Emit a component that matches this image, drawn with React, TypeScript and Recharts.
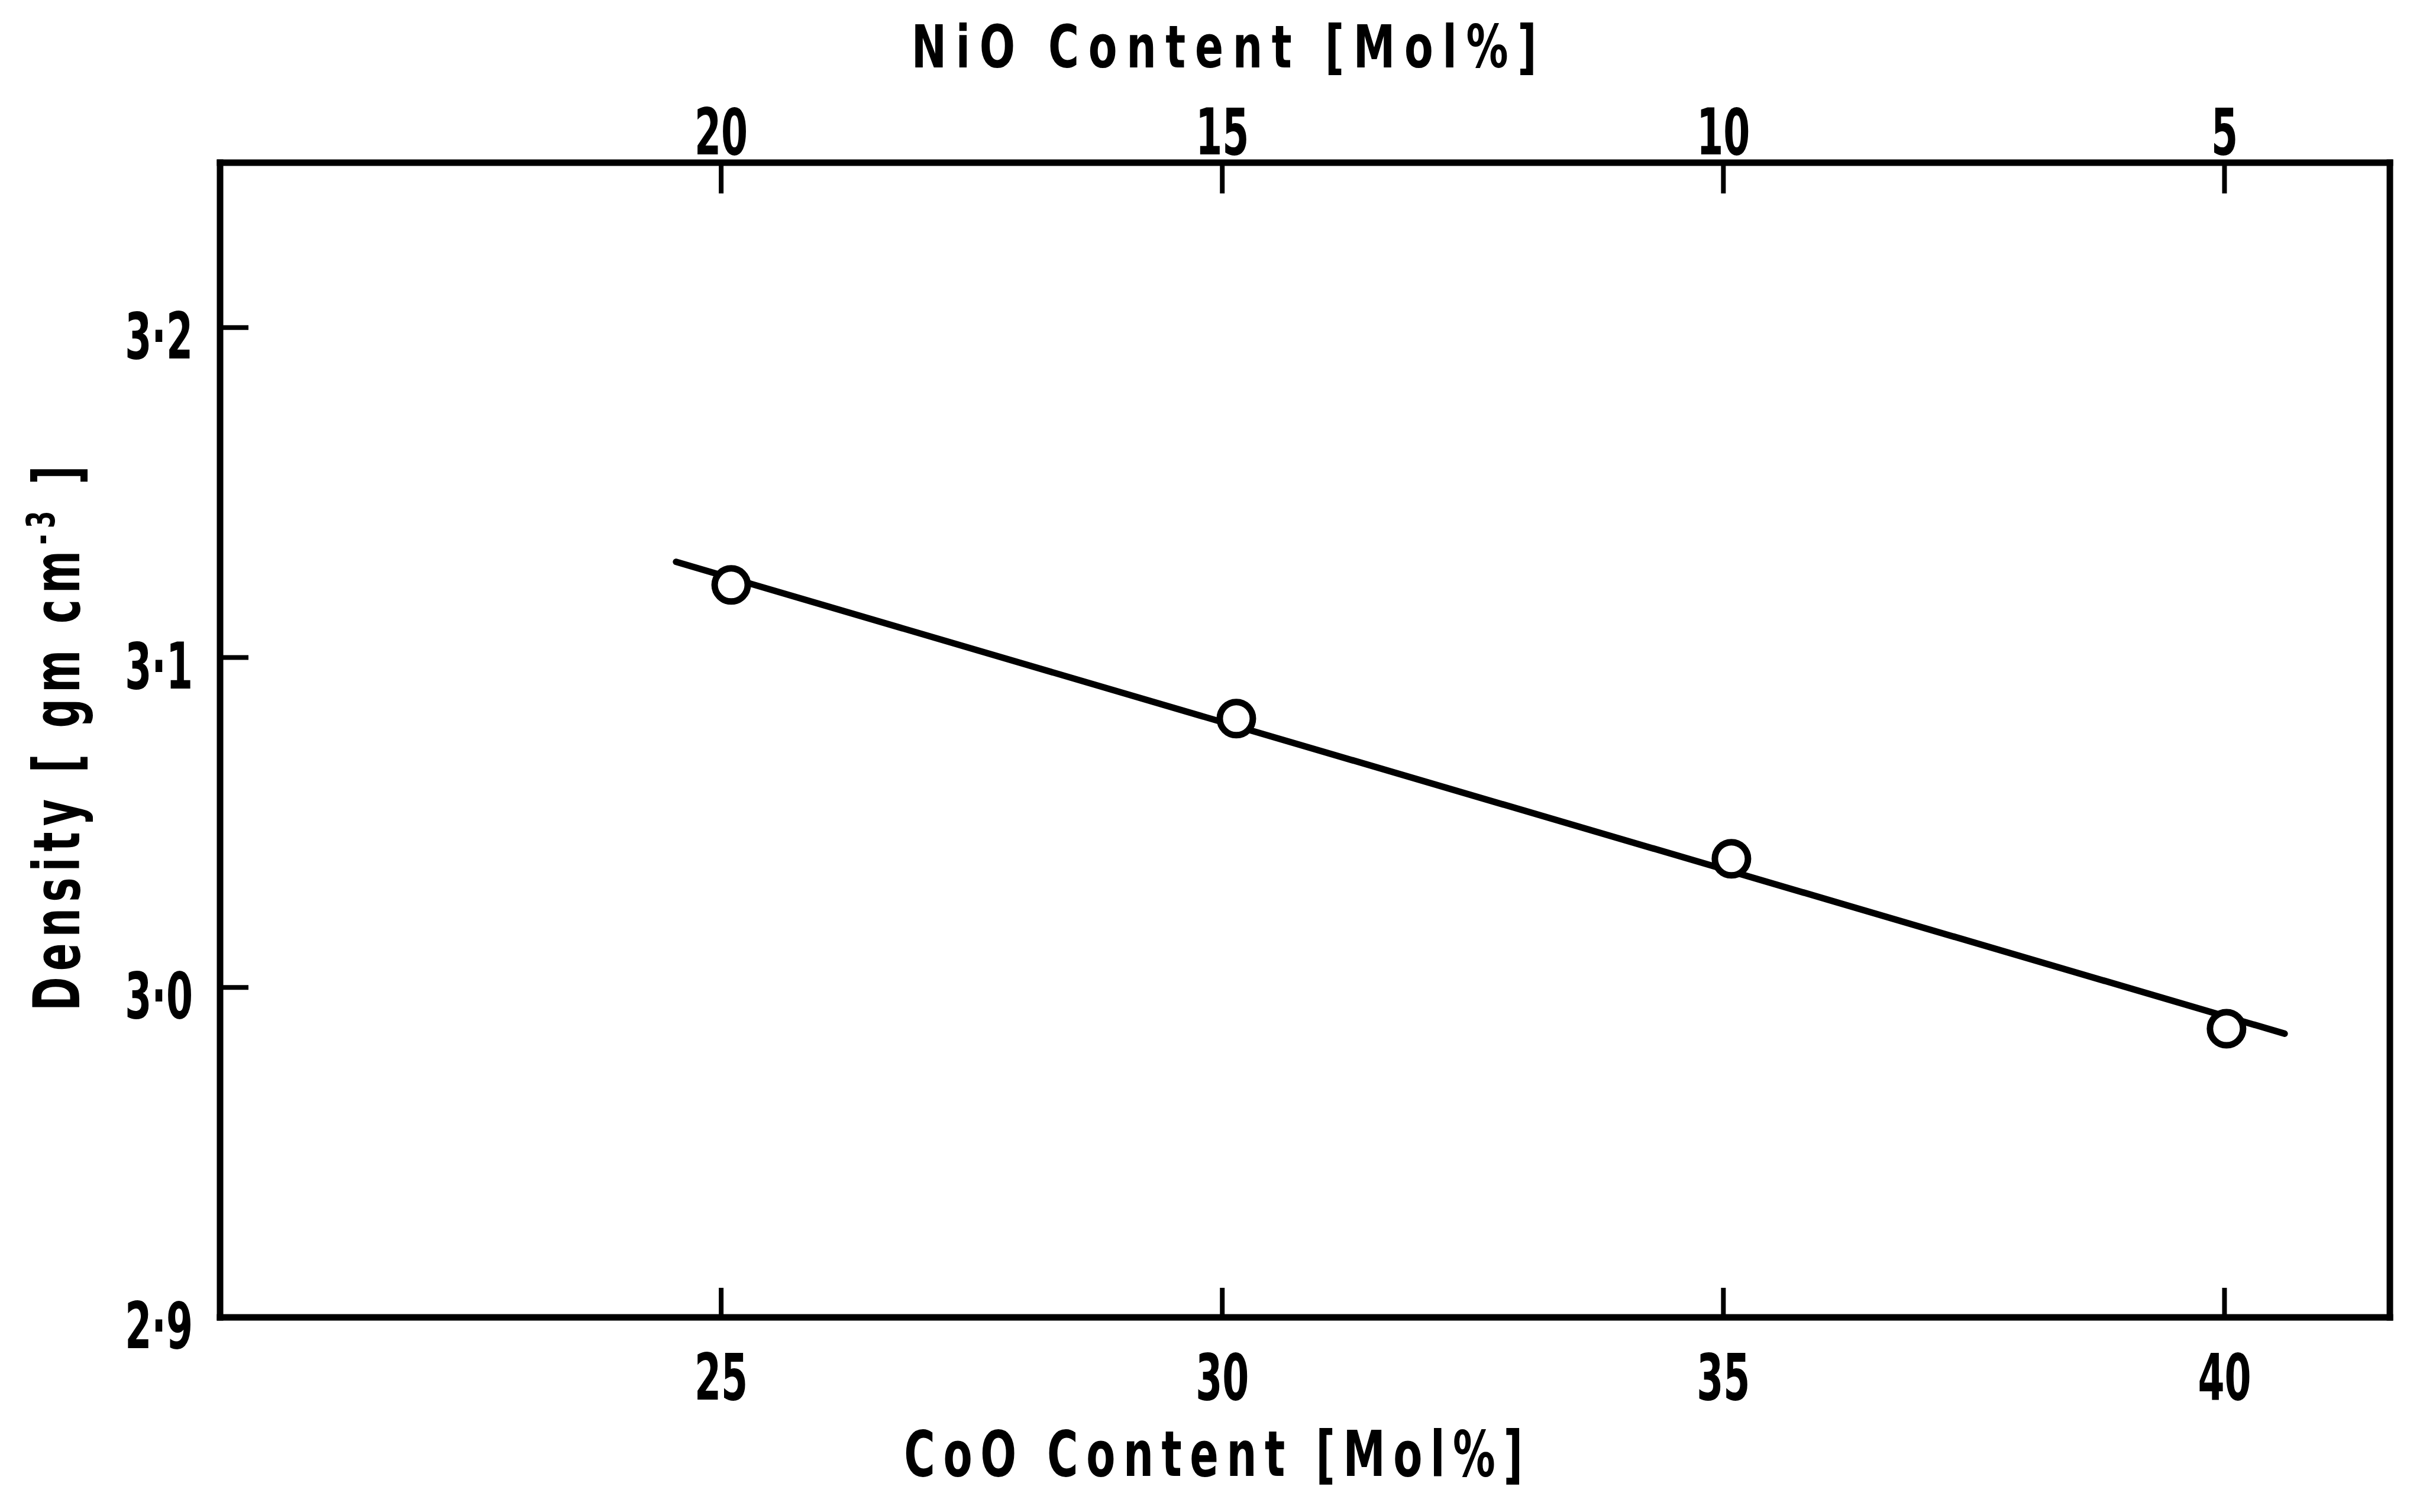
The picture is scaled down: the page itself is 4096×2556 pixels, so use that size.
import React from 'react';
import { ComposedChart, Line, Scatter, XAxis, YAxis } from 'recharts';

// CoO content [mol%] of the four samples and their measured density [g/cm3]
const cooContent = [25.1, 30.14, 35.08, 40.02];
const density = [3.122, 3.0815, 3.039, 2.9875];

// hand-drawn straight line through the points (end points as drawn)
const fitCoo = [24.55, 40.6];
const fitDensity = [3.129, 2.986];

const cooTicks = [25, 30, 35, 40];
const densityTicks = [2.9, 3.0, 3.1, 3.2];
const cooDomain = [20, 41.65];
const densityDomain = [2.9, 3.25];

const OXIDE_TOTAL = 45;

const points = cooContent.map((c, i) => ({ coo: c, density: density[i] }));
const fitLine = fitCoo.map((c, i) => ({ coo: c, density: fitDensity[i] }));

const W = 4096;
const H = 2556;
const FONT = 'DejaVu Sans';
const INK = '#000';

const axisStyle = { stroke: INK, strokeWidth: 11, strokeLinecap: 'square' as const };

// narrow, stencil-like lettering: a bold font squeezed sideways
const Lettering = ({
  x,
  y,
  children,
  size = 108,
  sx = 0.6,
  anchor = 'middle',
  spacing = 0,
  rotate = 0,
}: any) => (
  <text
    transform={`translate(${x},${y}) rotate(${rotate}) scale(${sx},1)`}
    textAnchor={anchor}
    fontFamily={FONT}
    fontWeight="bold"
    fontSize={size}
    letterSpacing={spacing}
    fill={INK}
  >
    {children}
  </text>
);

const BottomTick = ({ x, y, payload }: any) => (
  <g>
    <line x1={x} y1={y} x2={x} y2={y - 50} stroke={INK} strokeWidth={8} />
    <Lettering x={x} y={y + 139}>
      {payload.value}
    </Lettering>
  </g>
);

const TopTick = ({ x, y, payload }: any) => (
  <g>
    <line x1={x} y1={y} x2={x} y2={y + 52} stroke={INK} strokeWidth={8} />
    <Lettering x={x} y={y - 14}>
      {OXIDE_TOTAL - payload.value}
    </Lettering>
  </g>
);

const LeftTick = ({ x, y, payload }: any) => (
  <g>
    <line x1={x} y1={y} x2={x + 48} y2={y} stroke={INK} strokeWidth={8} />
    <Lettering x={x - 46} y={y + 52} anchor="end">
      {Number(payload.value).toFixed(1).replace('.', '\u00b7')}
    </Lettering>
  </g>
);

const OpenCircle = ({ cx, cy }: any) => (
  <circle cx={cx} cy={cy} r={28} fill="#fff" stroke={INK} strokeWidth={11} />
);

export default function App() {
  return (
    <div style={{ position: 'absolute', left: 0, top: 0, width: W, height: H, background: '#fff' }}>
      <ComposedChart width={W} height={H} margin={{ top: 0, right: 0, bottom: 0, left: 0 }}>
        <XAxis
          xAxisId="bottom"
          orientation="bottom"
          dataKey="coo"
          type="number"
          domain={cooDomain}
          ticks={cooTicks}
          interval={0}
          height={329}
          axisLine={axisStyle}
          tickLine={false}
          tickSize={0}
          tickMargin={0}
          tick={<BottomTick />}
        />
        <XAxis
          xAxisId="top"
          orientation="top"
          dataKey="coo"
          type="number"
          domain={cooDomain}
          ticks={cooTicks}
          interval={0}
          height={275}
          axisLine={axisStyle}
          tickLine={false}
          tickSize={0}
          tickMargin={0}
          tick={<TopTick />}
        />
        <YAxis
          yAxisId="left"
          orientation="left"
          type="number"
          domain={densityDomain}
          ticks={densityTicks}
          interval={0}
          width={372}
          axisLine={axisStyle}
          tickLine={false}
          tickSize={0}
          tickMargin={0}
          tick={<LeftTick />}
        />
        <YAxis
          yAxisId="right"
          orientation="right"
          type="number"
          domain={densityDomain}
          width={56}
          axisLine={axisStyle}
          tickLine={false}
          tick={false}
        />
        {/* invisible copy of the points so the NiO (top) axis gets its scale */}
        <Line
          data={points}
          dataKey="density"
          xAxisId="top"
          yAxisId="left"
          stroke="none"
          dot={false}
          activeDot={false}
          legendType="none"
          isAnimationActive={false}
        />
        <Line
          data={fitLine}
          dataKey="density"
          xAxisId="bottom"
          yAxisId="left"
          type="linear"
          stroke={INK}
          strokeWidth={11}
          strokeLinecap="round"
          dot={false}
          activeDot={false}
          isAnimationActive={false}
        />
        <Scatter
          data={points}
          dataKey="density"
          xAxisId="bottom"
          yAxisId="left"
          shape={<OpenCircle />}
          isAnimationActive={false}
        />
        {/* axis titles */}
        <Lettering x={2077} y={114} size={100} sx={0.71} spacing={22}>
          NiO Content [Mol%]
        </Lettering>
        <Lettering x={2058} y={2495} size={106} sx={0.676} spacing={20}>
          CoO Content [Mol%]
        </Lettering>
        <Lettering x={134} y={1243} size={108} sx={0.64} spacing={16} rotate={-90}>
          Density [ gm cm
          <tspan dy={-42} fontSize={66}>
            -3
          </tspan>
          <tspan dy={42}> ]</tspan>
        </Lettering>
      </ComposedChart>
    </div>
  );
}
